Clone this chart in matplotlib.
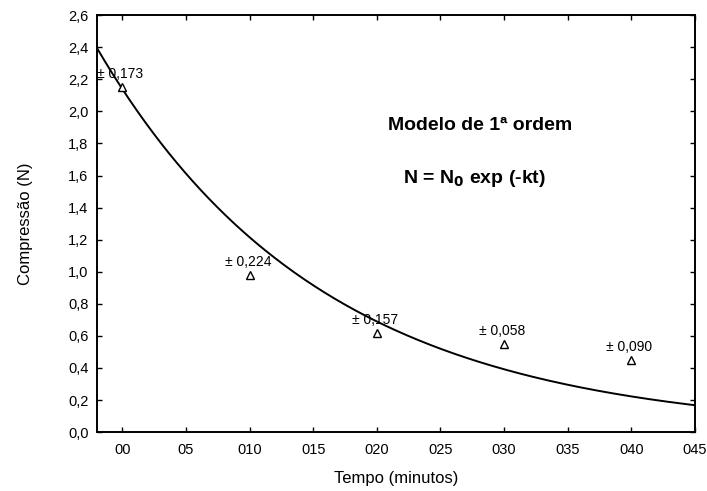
import numpy as np
import matplotlib
matplotlib.use("Agg")
import matplotlib.pyplot as plt

plt.rcParams['font.family'] = ['Liberation Sans', 'DejaVu Sans']

# Data
tempo = [0, 10, 20, 30, 40]
compressao = [2.15, 0.98, 0.62, 0.55, 0.45]
erros = ["± 0,173", "± 0,224", "± 0,157", "± 0,058", "± 0,090"]
x_ticks = [0, 5, 10, 15, 20, 25, 30, 35, 40, 45]
x_tick_labels = ["00", "05", "010", "015", "020", "025", "030", "035", "040", "045"]
y_ticks = [0.0, 0.2, 0.4, 0.6, 0.8, 1.0, 1.2, 1.4, 1.6, 1.8, 2.0, 2.2, 2.4, 2.6]
y_tick_labels = ["0,0", "0,2", "0,4", "0,6", "0,8", "1,0", "1,2", "1,4", "1,6", "1,8", "2,0", "2,2", "2,4", "2,6"]
N0 = 2.14
k = 0.0566

fig = plt.figure(figsize=(7.07, 4.91), dpi=100)
ax = fig.add_axes([0.137, 0.120, 0.846, 0.849])

t = np.linspace(-2, 45, 300)
ax.plot(t, N0 * np.exp(-k * t), color='black', lw=1.4)
ax.plot(tempo, compressao, linestyle='none', marker='^', markersize=5.5,
        markerfacecolor='white', markeredgecolor='black', markeredgewidth=1.0)
for x, y, e in zip(tempo, compressao, erros):
    ax.annotate(e, (x, y), xytext=(-25, 13), textcoords='offset pixels',
                fontsize=10, ha='left', va='center')

ax.set_xlim(-2, 45)
ax.set_ylim(0, 2.6)
ax.set_xticks(x_ticks)
ax.set_xticklabels(x_tick_labels)
ax.set_yticks(y_ticks)
ax.set_yticklabels(y_tick_labels)
ax.tick_params(direction='in', top=True, right=True, length=3.5, width=1,
               labelsize=10.5)
ax.tick_params(axis='x', pad=8)
ax.tick_params(axis='y', pad=6)
for s in ax.spines.values():
    s.set_linewidth(1.4)

ax.set_xlabel("Tempo (minutos)", fontsize=12, labelpad=10)
ax.set_ylabel("Compressão (N)", fontsize=12, labelpad=25)

ax.text(0.640, 0.736, "Modelo de 1ª ordem", transform=ax.transAxes,
        fontsize=14, fontweight='bold', ha='center', va='center')
ax.text(0.631, 0.609, r"N = N$_\mathbf{0}$ exp (-kt)", transform=ax.transAxes,
        fontsize=14, fontweight='bold', ha='center', va='center')

fig.savefig("out.png", dpi=100)
